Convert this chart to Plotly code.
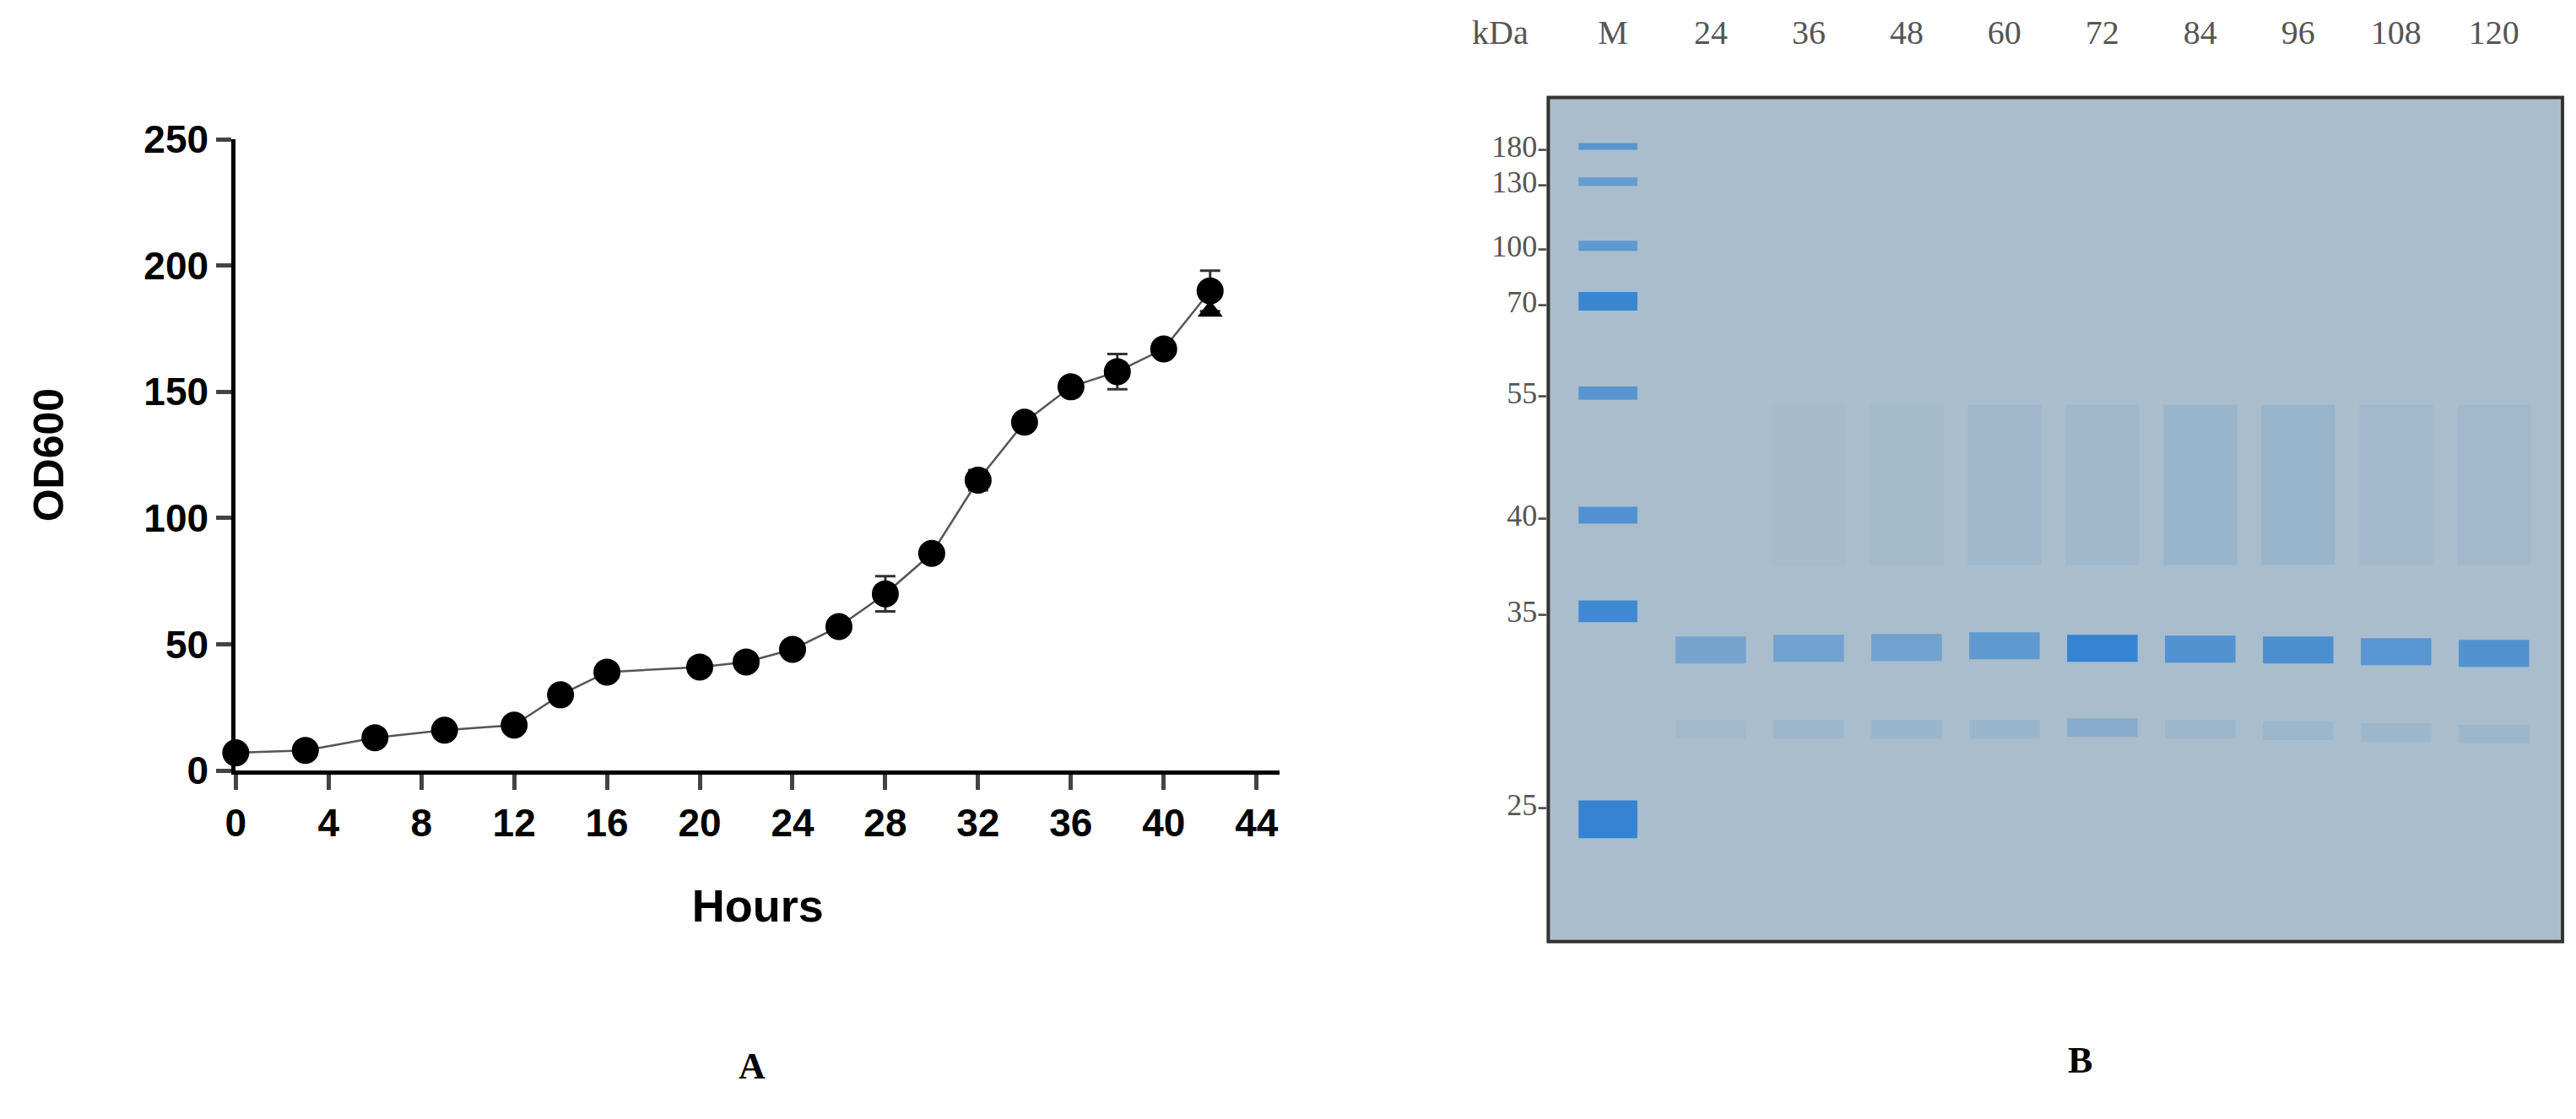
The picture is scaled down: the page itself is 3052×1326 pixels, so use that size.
import plotly.graph_objects as go

# Panel A: growth curve
hours = [0, 3, 6, 9, 12, 14, 16, 20, 22, 24, 26, 28, 30, 32, 34, 36, 38, 40, 42]
od600 = [7, 8, 13, 16, 18, 30, 39, 41, 43, 48, 57, 70, 86, 115, 138, 152, 158, 167, 190]
od_err = [0, 0, 0, 0, 0, 0, 0, 0, 0, 0, 0, 7, 0, 4, 0, 0, 7, 0, 8]
tri_hours = [42]
tri_od = [182]

# Panel B: SDS-PAGE gel (migration distance from top of gel, arbitrary units)
marker_kda = [180, 130, 100, 70, 55, 40, 35, 25]
marker_mig = [58, 100, 176, 242, 351, 496, 610, 839]
marker_int = [0.65, 0.55, 0.6, 0.9, 0.65, 0.7, 0.85, 0.95]
marker_h = [8, 10, 12, 22, 16, 20, 26, 45]
lanes = ["M", "24", "36", "48", "60", "72", "84", "96", "108", "120"]
main_mig = [656, 654, 653, 651, 654, 655, 656, 658, 660]
main_int = [0.4, 0.45, 0.45, 0.6, 0.95, 0.7, 0.75, 0.65, 0.7]
low_mig = [750, 750, 750, 750, 748, 750, 752, 754, 756]
low_int = [0.06, 0.1, 0.12, 0.12, 0.28, 0.1, 0.1, 0.1, 0.1]
smear_int = [0.0, 0.02, 0.03, 0.07, 0.07, 0.13, 0.13, 0.06, 0.06]

fig = go.Figure()

fig.add_trace(go.Scatter(x=hours, y=od600, mode="lines+markers",
                         line=dict(color="#555", width=2.5),
                         marker=dict(color="black", size=32),
                         error_y=dict(type="data", array=od_err, color="#333",
                                      thickness=3, width=12),
                         cliponaxis=False, xaxis="x", yaxis="y"))
fig.add_trace(go.Scatter(x=tri_hours, y=tri_od, mode="markers",
                         marker=dict(color="black", size=26, symbol="triangle-up"),
                         cliponaxis=False, xaxis="x", yaxis="y"))

# gel bands drawn as floating bars
blue = "46,128,210"
idx = list(range(1, len(lanes)))
fig.add_trace(go.Bar(x=idx, y=[190] * 9, base=[365] * 9, width=0.75,
                     marker=dict(color=[f"rgba({blue},{a})" for a in smear_int], line_width=0),
                     xaxis="x2", yaxis="y2"))
fig.add_trace(go.Bar(x=idx, y=[22] * 9, base=[m - 11 for m in low_mig], width=0.72,
                     marker=dict(color=[f"rgba({blue},{a})" for a in low_int], line_width=0),
                     xaxis="x2", yaxis="y2"))
fig.add_trace(go.Bar(x=idx, y=[32] * 9, base=[m - 16 for m in main_mig], width=0.72,
                     marker=dict(color=[f"rgba({blue},{a})" for a in main_int], line_width=0),
                     xaxis="x2", yaxis="y2"))
fig.add_trace(go.Bar(x=[-0.05] * len(marker_kda), y=marker_h,
                     base=[m - h / 2 + (18 if k == 25 else 0) for m, h, k in zip(marker_mig, marker_h, marker_kda)],
                     width=0.6,
                     marker=dict(color=[f"rgba({blue},{a})" for a in marker_int], line_width=0),
                     xaxis="x2", yaxis="y2"))

sans = "Liberation Sans"
serif = "Liberation Serif"
fig.update_layout(
    width=3052, height=1326, margin=dict(l=0, r=0, t=0, b=0),
    paper_bgcolor="white", plot_bgcolor="rgba(0,0,0,0)",
    showlegend=False, barmode="overlay",
    xaxis=dict(domain=[0.085, 0.492], range=[0, 45], tickvals=list(range(0, 45, 4)),
               showline=True, linecolor="black", linewidth=5, ticks="outside",
               ticklen=18, tickwidth=5, showgrid=False, zeroline=False,
               tickfont=dict(family=sans, size=46, color="black", weight="bold"),
               title=dict(text="<b>Hours</b>", font=dict(family=sans, size=54, color="black"), standoff=55)),
    yaxis=dict(domain=[0.31, 0.897], range=[0, 250], tickvals=[0, 50, 100, 150, 200, 250],
               showline=True, linecolor="black", linewidth=5, ticks="outside",
               ticklen=18, tickwidth=5, showgrid=False, zeroline=False,
               tickfont=dict(family=sans, size=46, color="black", weight="bold"),
               title=dict(text="<b>OD600</b>", font=dict(family=sans, size=50, color="black"), standoff=80)),
    xaxis2=dict(domain=[0.5967, 0.9921], range=[-0.66, 9.7], side="top", anchor="y2",
                tickvals=list(range(len(lanes))), ticktext=lanes, ticks="",
                ticklabelstandoff=55,
                showgrid=False, zeroline=False, showline=False,
                tickfont=dict(family=serif, size=40, color="#555")),
    yaxis2=dict(domain=[0.151, 0.936], range=[1002, 0], anchor="x2",
                tickvals=marker_mig, ticktext=[f"{k}-" for k in marker_kda], ticks="",
                showgrid=False, zeroline=False, showline=False,
                tickfont=dict(family=serif, size=36, color="#555")),
    shapes=[dict(type="rect", xref="x2 domain", yref="y2 domain", x0=0, x1=1, y0=0, y1=1,
                 layer="below", fillcolor="#a9bdcc", line=dict(color="#333", width=4))],
    annotations=[
        dict(text="kDa", x=0.578, y=1.016, xref="paper", yref="paper", showarrow=False,
             font=dict(family=serif, size=40, color="#555")),
        dict(text="<b>A</b>", x=0.2805, y=0.014, xref="paper", yref="paper", showarrow=False,
             font=dict(family=serif, size=44, color="black")),
        dict(text="<b>B</b>", x=0.8095, y=0.02, xref="paper", yref="paper", showarrow=False,
             font=dict(family=serif, size=44, color="black")),
    ],
)

fig.write_html("out.html")
